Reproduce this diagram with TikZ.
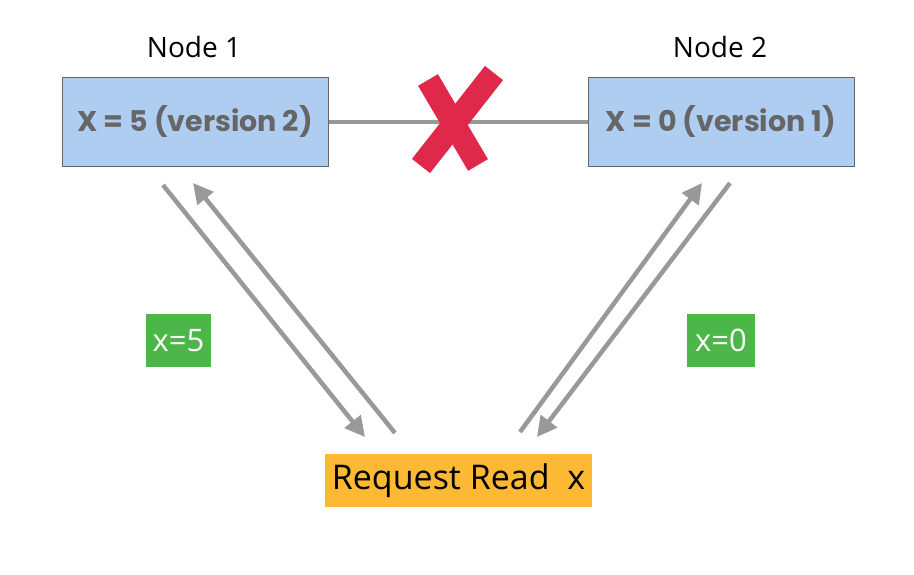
\documentclass[tikz,border=0pt]{standalone}
\usepackage{fontspec}
\setmainfont{Open Sans}
\newfontfamily\boxfont{Poppins}
\usetikzlibrary{arrows.meta}
\definecolor{boxblue}{HTML}{AFCDF1}
\definecolor{boxtext}{HTML}{666666}
\definecolor{linegray}{HTML}{999999}
\definecolor{crossred}{HTML}{E0284B}
\definecolor{valgreen}{HTML}{4CB648}
\definecolor{reqorange}{HTML}{FDB933}

\tikzset{
	replica/.style={draw=boxtext, line width=1pt, fill=boxblue, text=boxtext, minimum width=266pt, minimum height=89pt, inner sep=0pt, font=\boxfont\bfseries\fontsize{28.5}{32}\selectfont},
	title/.style={font=\fontsize{28}{32}\selectfont},
	value/.style={fill=valgreen, text=white, minimum height=53pt, inner sep=0pt, font=\fontsize{31}{35}\selectfont},
	request/.style={fill=reqorange, minimum width=267pt, minimum height=53pt, inner sep=0pt, font=\fontsize{34}{38}\selectfont},
	link/.style={draw=linegray, line width=4pt},
	msg/.style={draw=linegray, line width=4.5pt, -{Triangle[length=20pt,width=20pt]}},
	cross/.style={draw=crossred, line width=23pt}
}

\begin{document}
\begin{tikzpicture}[x=1pt, y=-1pt]
		%%%%% START %%%%%
		\useasboundingbox (0, 0) rectangle (914, 574);
		
		\node[title] (t1) at (194, 47) {Node 1};
		\node[title] (t2) at (720, 47) {Node 2};
		
		\node[replica] (n1) at (195, 121.5) {X = 5 (version 2)};
		\node[replica] (n2) at (721, 121.5) {X = 0 (version 1)};
		
		\draw[link] (n1) -- (n2);
		\draw[cross] (428, 80) -- (478, 165);
		\draw[cross] (494, 73) -- (421, 166);
		
		\node[request] (req) at (458.5, 480.5) {Request Read \ x};
		
		\node[value, minimum width=65pt] (v1) at (178.5, 340.5) {x=5};
		\node[value, minimum width=68pt] (v2) at (721, 340.5) {x=0};
		
		% left pair
		\coordinate (a1) at (163, 185);
		\coordinate (a2) at (365, 437);
		\coordinate (b1) at (395, 433);
		\coordinate (b2) at (193, 183);
		\draw[msg] (a1) -- (a2);
		\draw[msg] (b1) -- (b2);
		
		% right pair
		\coordinate (c1) at (520, 432);
		\coordinate (c2) at (702, 183);
		\coordinate (d1) at (730, 183);
		\coordinate (d2) at (537, 437);
		\draw[msg] (c1) -- (c2);
		\draw[msg] (d1) -- (d2);
		%%%%% END %%%%%
\end{tikzpicture}
\end{document}
